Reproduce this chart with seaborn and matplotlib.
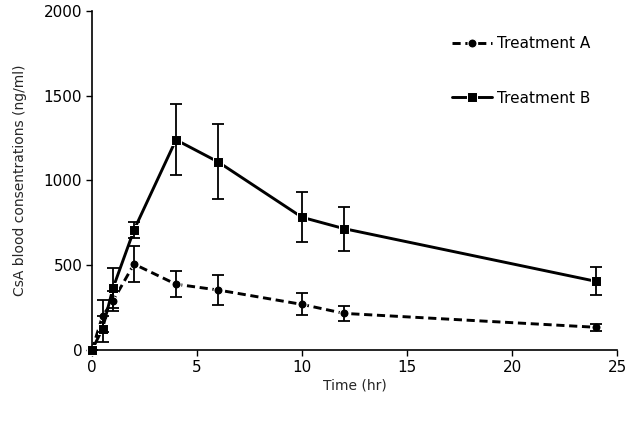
import matplotlib
matplotlib.use("Agg")
import matplotlib.pyplot as plt
import seaborn as sns
import pandas as pd

time_hr = [0, 0.5, 1, 2, 4, 6, 10, 12, 24]
treat_a = [0, 200, 290, 507, 388, 354, 269, 216, 134]
treat_a_sd = [0, 95, 60, 105, 77, 90, 65, 45, 20]
treat_b = [0, 125, 365, 708, 1240, 1110, 783, 716, 405]
treat_b_sd = [0, 75, 120, 50, 210, 222, 147, 130, 83]

sns.set_style("ticks")
plt.rcParams['font.family'] = ['DejaVu Sans']

df = pd.DataFrame({
    "Time": time_hr * 2,
    "Conc": treat_a + treat_b,
    "SD": treat_a_sd + treat_b_sd,
    "Group": ["Treatment A"] * len(time_hr) + ["Treatment B"] * len(time_hr),
})

fig = plt.figure(figsize=(6.28, 4.26), dpi=100)
ax = fig.add_axes([0.1465, 0.1784, 0.836, 0.7958])

sns.lineplot(data=df, x="Time", y="Conc", style="Group", markers={"Treatment A": "o", "Treatment B": "s"},
             dashes={"Treatment A": (2.8, 1.6), "Treatment B": ""}, color="black",
             linewidth=2.1, markersize=6.5, ax=ax)
for ln in ax.lines:
    ln.set_clip_on(False)

for g, sub in df.groupby("Group"):
    ax.errorbar(sub["Time"], sub["Conc"], yerr=sub["SD"], fmt="none", ecolor="black",
                elinewidth=1.3, capsize=4, capthick=1.3)

ax.set_xlim(0, 25)
ax.set_ylim(0, 2000)
ax.set_xticks([0, 5, 10, 15, 20, 25])
ax.set_yticks([0, 500, 1000, 1500, 2000])
ax.tick_params(labelsize=11, direction="out", length=4, width=1, colors="black", pad=3)
for s in ["left", "bottom"]:
    ax.spines[s].set_linewidth(1.2)
    ax.spines[s].set_color("black")
sns.despine(ax=ax)

ax.set_xlabel("Time (hr)", fontsize=10, labelpad=3)
ax.set_ylabel("CsA blood consentrations (ng/ml)", fontsize=10, labelpad=12)

leg = ax.legend(loc="upper left", bbox_to_anchor=(0.66, 0.967), frameon=False, fontsize=11,
                labelspacing=2.6, handlelength=2.6, handletextpad=0.3)
for t in leg.get_texts():
    t.set_color("black")

fig.savefig("out.png", dpi=100)
